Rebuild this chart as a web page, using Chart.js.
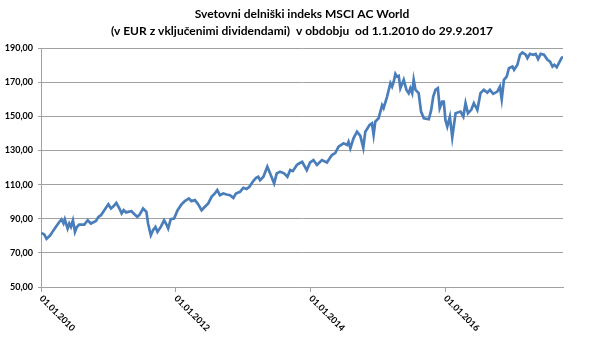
<!DOCTYPE html>
<html>
<head>
<meta charset="utf-8">
<script src="https://cdn.jsdelivr.net/npm/chart.js@4"></script>
<style>
html,body{margin:0;padding:0;background:#fff;}
#wrap{width:600px;height:351px;position:relative;}
</style>
</head>
<body>
<div id="wrap"><canvas id="c" width="600" height="351"></canvas></div>
<script>
const titleLines = [
  'Svetovni delniški indeks MSCI AC World',
  '(v EUR z vključenimi dividendami)  v obdobju  od 1.1.2010 do 29.9.2017'
];

const dates = [
  '2010-01-01','2010-01-18','2010-01-31','2010-02-20','2010-03-04','2010-03-22','2010-04-10','2010-04-22',
  '2010-05-03','2010-05-10','2010-05-25','2010-06-03','2010-06-12','2010-06-23','2010-07-04','2010-07-14',
  '2010-07-27','2010-08-24','2010-09-11','2010-09-28','2010-10-26','2010-11-08','2010-11-22','2010-12-10',
  '2011-01-01','2011-01-15','2011-01-30','2011-02-13','2011-03-02','2011-03-14','2011-03-25','2011-04-07',
  '2011-04-17','2011-05-06','2011-05-24','2011-06-07','2011-06-20','2011-07-08','2011-07-26','2011-08-04',
  '2011-08-19','2011-08-31','2011-09-13','2011-09-24','2011-10-12','2011-10-30','2011-11-12','2011-11-21',
  '2011-12-05','2011-12-23','2012-01-11','2012-02-01','2012-02-19','2012-03-12','2012-03-26','2012-04-14',
  '2012-05-02','2012-05-20','2012-06-07','2012-06-25','2012-07-13','2012-07-31','2012-08-13','2012-08-27',
  '2012-09-14','2012-10-03','2012-10-21','2012-11-08','2012-11-22','2012-12-14','2013-01-01','2013-01-19',
  '2013-02-03','2013-02-24','2013-03-11','2013-03-23','2013-04-02','2013-04-20','2013-05-11','2013-05-26',
  '2013-06-17','2013-07-01','2013-07-19','2013-08-10','2013-08-28','2013-09-12','2013-09-26','2013-10-18',
  '2013-11-01','2013-11-16','2013-12-11','2013-12-29','2014-01-16','2014-02-04','2014-03-03','2014-03-30',
  '2014-04-26','2014-05-14','2014-06-01','2014-06-28','2014-07-17','2014-07-25','2014-08-04','2014-08-21',
  '2014-09-09','2014-09-27','2014-10-13','2014-10-24','2014-11-16','2014-11-29','2014-12-08','2014-12-17',
  '2015-01-04','2015-01-23','2015-01-31','2015-02-19','2015-03-09','2015-03-18','2015-03-27','2015-04-05',
  '2015-04-14','2015-04-23','2015-05-02','2015-05-20','2015-06-04','2015-06-16','2015-06-25','2015-07-05',
  '2015-07-13','2015-07-23','2015-08-09','2015-08-22','2015-09-06','2015-10-03','2015-10-16','2015-10-27',
  '2015-11-08','2015-11-21','2015-12-01','2015-12-14','2015-12-23','2016-01-01','2016-01-11','2016-01-25',
  '2016-02-07','2016-02-25','2016-03-23','2016-04-07','2016-04-19','2016-05-02','2016-05-20','2016-06-03',
  '2016-06-22','2016-07-09','2016-07-27','2016-08-15','2016-08-29','2016-09-16','2016-10-08','2016-10-22',
  '2016-11-01','2016-11-13','2016-11-28','2016-12-10','2016-12-29','2017-01-07','2017-01-25','2017-02-08',
  '2017-02-21','2017-03-11','2017-03-20','2017-04-03','2017-04-22','2017-05-04','2017-05-17','2017-05-31',
  '2017-06-18','2017-07-07','2017-07-21','2017-08-03','2017-08-13','2017-08-26','2017-09-08','2017-09-21',
  '2017-09-29'
];

const values = [
  81.7,80.9,78.2,80.3,82.3,85.2,88.1,89.6,
  87.2,89.6,84.3,87.2,85.2,89.1,82.3,85.2,
  86.6,86.6,89.1,87.2,88.7,91.1,92.1,95.0,
  98.5,96.0,97.4,99.3,96.0,93.1,95.0,93.7,
  94.0,94.4,92.5,91.1,92.5,96.0,94.0,87.2,
  80.3,83.3,85.2,82.3,85.2,89.1,86.6,84.3,
  89.7,90.1,95.0,98.4,100.3,101.9,100.3,100.9,
  98.4,95.0,97.0,99.0,102.8,104.8,106.8,103.8,
  104.8,104.2,103.8,102.2,104.8,105.8,108.1,107.4,
  108.7,112.1,114.0,114.6,112.6,114.6,120.5,116.6,
  110.7,116.6,117.5,116.6,114.6,118.5,117.9,121.5,
  122.5,123.4,118.5,123.0,124.4,121.5,124.4,123.0,
  127.3,128.5,132.2,134.2,133.2,135.1,131.3,137.1,
  141.0,138.5,131.5,141.0,144.9,145.9,139.1,146.9,
  148.9,156.5,154.8,161.6,169.4,167.4,170.4,174.9,
  173.3,173.7,166.5,171.4,165.5,163.6,166.5,163.6,
  171.4,165.5,163.6,152.8,148.9,148.3,153.8,161.6,
  165.5,166.5,154.8,158.6,158.6,147.9,144.0,149.8,
  137.7,151.8,152.8,149.8,157.7,151.8,153.8,157.7,
  153.8,163.6,165.5,163.9,165.5,163.2,164.5,167.4,
  160.0,171.4,173.3,178.2,179.2,177.3,180.2,186.1,
  187.4,186.1,184.1,186.6,186.1,186.6,183.5,186.6,
  186.1,183.1,182.1,179.2,180.2,178.8,181.5,184.1,
  185.0
];

const xTickDates = ['2010-01-01','2012-01-01','2014-01-01','2016-01-01'];
const xTickLabels = ['01.01.2010','01.01.2012','01.01.2014','01.01.2016'];
const xEndDate = '2017-09-29';
const yMin = 50, yMax = 190, yStep = 20;

const DAY = 86400000;
const base = Date.UTC(2010,0,1);
function dayOf(s){ const p = s.split('-').map(Number); return (Date.UTC(p[0],p[1]-1,p[2]) - base)/DAY; }

const points = dates.map((d,i)=>({x: dayOf(d), y: values[i]}));
const tickVals = xTickDates.map(dayOf);

const gridColor = '#a0a0a0';
const fontFam = 'Lato, "Liberation Sans", sans-serif';

const xLabelPlugin = {
  id: 'xLabels',
  afterDraw(chart){
    const sc = chart.scales.x;
    const ctx = chart.ctx;
    ctx.save();
    ctx.font = 'bold 9px ' + fontFam;
    ctx.fillStyle = '#000';
    ctx.textAlign = 'left';
    ctx.textBaseline = 'middle';
    sc.ticks.forEach((t, i) => {
      const px = sc.getPixelForValue(t.value);
      ctx.save();
      ctx.translate(px, sc.top + 10);
      ctx.rotate(Math.PI/4);
      ctx.fillText(xTickLabels[i], 0, 0);
      ctx.restore();
    });
    ctx.restore();
  }
};

new Chart(document.getElementById('c'), {
  type: 'line',
  data: {
    datasets: [{
      data: points,
      borderColor: '#4a7ebb',
      borderWidth: 2.7,
      pointRadius: 0,
      tension: 0,
      fill: false
    }]
  },
  options: {
    responsive: false,
    animation: false,
    layout: { padding: { left: 0, right: 37, top: 0, bottom: 59 } },
    plugins: {
      legend: { display: false },
      tooltip: { enabled: false },
      title: {
        display: true,
        fullSize: false,
        text: titleLines,
        color: '#000',
        font: { family: fontFam, size: 12, weight: 'bold', lineHeight: 1.42 },
        padding: { top: 6, bottom: 8 }
      }
    },
    scales: {
      x: {
        type: 'linear',
        min: 0,
        max: dayOf(xEndDate),
        afterBuildTicks(scale){ scale.ticks = tickVals.map(v=>({value: v})); },
        ticks: { display: false },
        grid: { drawOnChartArea: false, drawTicks: true, tickLength: 5, color: gridColor },
        border: { color: gridColor, width: 1 }
      },
      y: {
        min: yMin,
        max: yMax,
        afterFit(scale){ scale.width = 41; },
        ticks: {
          stepSize: yStep,
          color: '#000',
          padding: 5,
          font: { family: fontFam, size: 9, weight: 'bold' },
          callback: v => v.toFixed(2).replace('.', ',')
        },
        grid: { color: gridColor, lineWidth: 1, tickLength: 3 },
        border: { color: gridColor, width: 1 }
      }
    }
  },
  plugins: [xLabelPlugin]
});
</script>
</body>
</html>
